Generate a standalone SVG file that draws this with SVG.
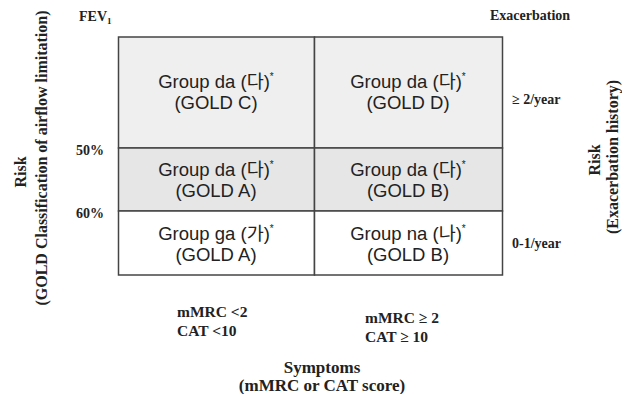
<svg xmlns="http://www.w3.org/2000/svg" width="622" height="394" viewBox="0 0 622 394">
<style>
.cell{stroke:#444;stroke-width:1.5}
.g{font-family:"Liberation Sans",Arial,"Noto Sans CJK KR",sans-serif;font-size:18.5px;fill:#222;text-anchor:middle}
.s{font-family:"Liberation Serif","Times New Roman",serif;font-weight:bold;fill:#222}
.sm{font-size:14px}
.md{font-size:15.5px}
.lg{font-size:16px;text-anchor:middle}
.xl{font-size:17px;text-anchor:middle}
</style>
<rect width="622" height="394" fill="#fff"/>
<g id="cellC"><rect class="cell" x="118.5" y="37" width="196" height="111" fill="#efefef"/>
<text class="g" x="216" y="88">Group da (다)<tspan font-size="10" dy="-8">*</tspan></text>
<text class="g" x="216" y="109">(GOLD C)</text></g>
<g id="cellD"><rect class="cell" x="314.5" y="37" width="188" height="111" fill="#efefef"/>
<text class="g" x="408" y="88">Group da (다)<tspan font-size="10" dy="-8">*</tspan></text>
<text class="g" x="408" y="109">(GOLD D)</text></g>
<g id="cellA2"><rect class="cell" x="118.5" y="148" width="196" height="63" fill="#e6e6e6"/>
<text class="g" x="216" y="176">Group da (다)<tspan font-size="10" dy="-8">*</tspan></text>
<text class="g" x="216" y="197">(GOLD A)</text></g>
<g id="cellB2"><rect class="cell" x="314.5" y="148" width="188" height="63" fill="#e6e6e6"/>
<text class="g" x="408" y="176">Group da (다)<tspan font-size="10" dy="-8">*</tspan></text>
<text class="g" x="408" y="197">(GOLD B)</text></g>
<g id="cellA"><rect class="cell" x="118.5" y="211" width="196" height="64" fill="#fff"/>
<text class="g" x="216" y="240">Group ga (가)<tspan font-size="10" dy="-8">*</tspan></text>
<text class="g" x="216" y="261">(GOLD A)</text></g>
<g id="cellB"><rect class="cell" x="314.5" y="211" width="188" height="64" fill="#fff"/>
<text class="g" x="408" y="240">Group na (나)<tspan font-size="10" dy="-8">*</tspan></text>
<text class="g" x="408" y="261">(GOLD B)</text></g>
<g id="labels">
<text class="s sm" x="79" y="21">FEV<tspan font-size="9" dy="3">1</tspan></text>
<text class="s sm" x="490" y="20">Exacerbation</text>
<text class="s sm" x="76" y="155">50%</text>
<text class="s sm" x="76" y="218">60%</text>
<text class="s sm" x="512" y="104">≥ 2/year</text>
<text class="s sm" x="512" y="248">0-1/year</text>
<text class="s md" x="177" y="317">mMRC &lt;2</text>
<text class="s md" x="177" y="336">CAT &lt;10</text>
<text class="s md" x="365" y="323">mMRC ≥ 2</text>
<text class="s md" x="365" y="342">CAT ≥ 10</text>
<text class="s xl" x="322" y="373">Symptoms</text>
<text class="s xl" x="322" y="391">(mMRC or CAT score)</text>
<text class="s lg" transform="translate(26,172) rotate(-90)">Risk</text>
<text class="s lg" transform="translate(47,158) rotate(-90)">(GOLD Classification of airflow limitation)</text>
<text class="s lg" transform="translate(600,160) rotate(-90)">Risk</text>
<text class="s lg" transform="translate(618,157) rotate(-90)">(Exacerbation history)</text>
</g>
</svg>
